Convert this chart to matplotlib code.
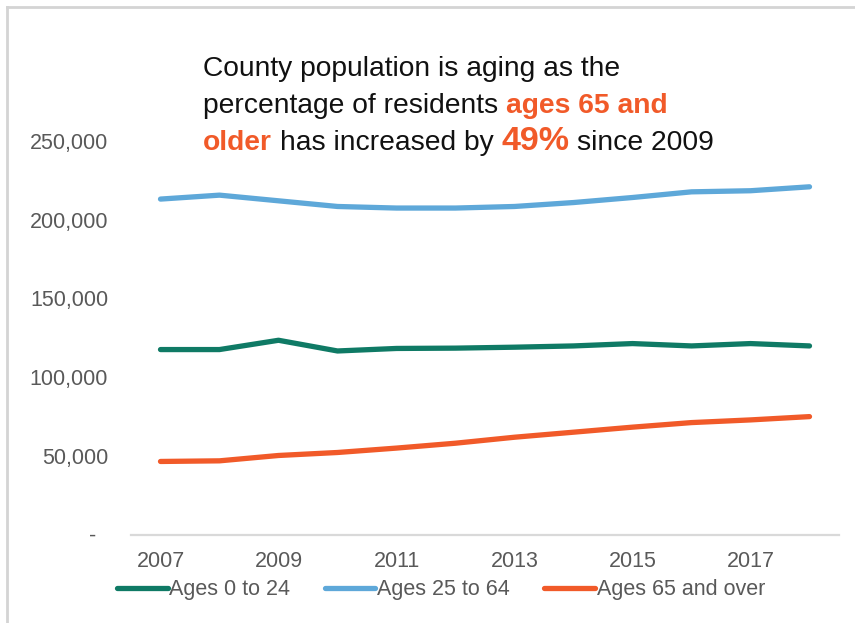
import matplotlib
matplotlib.use("Agg")
import matplotlib.pyplot as plt
from matplotlib.lines import Line2D
from matplotlib.ticker import FuncFormatter, FixedLocator

# County population by age group, 2007-2018
years = [2007, 2008, 2009, 2010, 2011, 2012, 2013, 2014, 2015, 2016, 2017, 2018]
ages_0_24 = [117500, 117500, 123400, 116600, 118200, 118400, 119000, 119800, 121300, 119800, 121300, 119800]
ages_25_64 = [213100, 215600, 212000, 208400, 207400, 207400, 208400, 210900, 214100, 217700, 218400, 220900]
ages_65_over = [46400, 46800, 50200, 52100, 54900, 58000, 61800, 65000, 68200, 71100, 72800, 74900]
series_names = ["Ages 0 to 24", "Ages 25 to 64", "Ages 65 and over"]
y_ticks = [0, 50000, 100000, 150000, 200000, 250000]

GREEN = "#0F7A65"
BLUE = "#5EA8D9"
ORANGE = "#F15A29"
GREY_TEXT = "#595959"

W, H = 855, 623
plt.rcParams["font.family"] = ["Liberation Sans", "DejaVu Sans"]

fig = plt.figure(figsize=(W / 100, H / 100), dpi=100)
fig.patch.set_facecolor("white")

ax = fig.add_axes([131 / W, 1 - 534.5 / H, 708 / W, (534.5 - 141) / H])
x = list(range(len(years)))
for vals, col, name in zip([ages_0_24, ages_25_64, ages_65_over],
                           [GREEN, BLUE, ORANGE], series_names):
    ax.plot(x, vals, color=col, lw=3.8, solid_capstyle="round",
            solid_joinstyle="round", label=name)

ax.set_xlim(-0.5, len(years) - 0.5)
ax.set_ylim(0, 250000)
ax.xaxis.set_major_locator(FixedLocator(x[::2]))
ax.set_xticklabels([str(y) for y in years[::2]])
ax.yaxis.set_major_locator(FixedLocator(y_ticks))
ax.yaxis.set_major_formatter(FuncFormatter(
    lambda v, p: "-\u2007" if v == 0 else f"{int(v):,}"))

for side in ["top", "right", "left"]:
    ax.spines[side].set_visible(False)
ax.spines["bottom"].set_color("#D9D9D9")
ax.spines["bottom"].set_linewidth(1.6)
ax.tick_params(axis="both", length=0, labelsize=15.5, colors=GREY_TEXT)
ax.tick_params(axis="y", pad=16.5)
ax.tick_params(axis="x", pad=12)
ax.patch.set_alpha(0)

leg = fig.legend(loc="center left", bbox_to_anchor=(117 / W, 1 - 590 / H),
                 ncol=3, frameon=False, fontsize=15.5, handlelength=2.35,
                 handletextpad=0.08, columnspacing=1.6, borderpad=0,
                 borderaxespad=0)
for t in leg.get_texts():
    t.set_color(GREY_TEXT)
for h in leg.get_lines():
    h.set_linewidth(3.8)
    h.set_solid_capstyle("round")

# frame edges along the left and top
fig.add_artist(Line2D([7 / W, 7 / W], [0, 1 - 7 / H], color="#D4D4D4", lw=2,
                      transform=fig.transFigure))
fig.add_artist(Line2D([7 / W, 1], [1 - 7 / H, 1 - 7 / H], color="#D4D4D4", lw=2,
                      transform=fig.transFigure))

# Headline built from differently styled pieces
fig.canvas.draw()
renderer = fig.canvas.get_renderer()
regular = dict(fontsize=20.3, color="#111111")
bold_or = dict(fontsize=20.3, color=ORANGE, fontweight="bold")
big_or = dict(fontsize=24.5, color=ORANGE, fontweight="bold")


def text_width(s, style):
    t = fig.text(0, 0, s, **style)
    w = t.get_window_extent(renderer).width
    t.remove()
    return w


space = text_width("a a", regular) - text_width("aa", regular)


def write_line(pieces, x0, baseline):
    xpos = x0
    for i, (s, style) in enumerate(pieces):
        if i > 0:
            xpos += space
        t = fig.text(xpos / W, 1 - baseline / H, s, ha="left", va="baseline", **style)
        xpos = t.get_window_extent(renderer).x1


write_line([("County population is aging as the", regular)], 203, 76)
write_line([("percentage of residents", regular), ("ages 65 and", bold_or)], 203, 113)
write_line([("older", bold_or), ("has increased by", regular),
            ("49%", big_or), ("since 2009", regular)], 203, 150)

fig.savefig("out.png", dpi=100, facecolor="white")
